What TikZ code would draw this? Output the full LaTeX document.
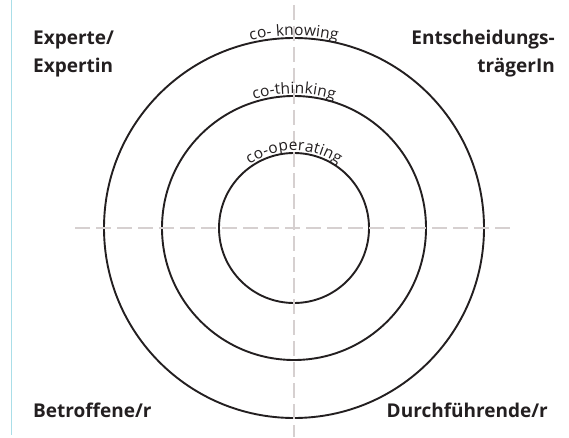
\documentclass[tikz,border=0pt]{standalone}
\usepackage{fontspec}
\setmainfont{Open Sans}
\usetikzlibrary{decorations.text}
\definecolor{axisgray}{RGB}{214,208,208}
\definecolor{rulecyan}{RGB}{170,222,232}
\definecolor{ink}{RGB}{35,31,32}
\begin{document}
\begin{tikzpicture}[x=1pt,y=1pt,
  ring/.style={circle, draw=ink, line width=1.9pt, inner sep=0pt, outer sep=0pt, minimum size=#1},
  axis/.style={draw=axisgray, line width=2.6pt, dash pattern=on 15pt off 6pt},
  role/.style={font=\fontsize{19}{28}\selectfont\bfseries, inner sep=0pt, text=ink},
  arclabel/.style={decorate, decoration={text along path, text align=center, raise=2.5pt,
     text={|\fontsize{15.5}{15.5}\selectfont\color{ink}|#1}}}
]
\useasboundingbox (0,0) rectangle (569,437);
\coordinate (c) at (294,209);
\node[ring=380pt] (outer) at (c) {};
\node[ring=264pt] (middle) at (c) {};
\node[ring=150pt] (inner) at (c) {};
\coordinate (hl) at (75,209);
\coordinate (hr) at (513,209);
\coordinate (vt) at (294,432);
\coordinate (vb) at (294,0);
\draw[axis] (hl) -- (hr);
\draw[axis] (vt) -- (vb);
\path[arclabel={co- knowing}] (outer.west) arc[start angle=180, end angle=0, radius=190];
\path[arclabel={co-thinking}] (middle.west) arc[start angle=180, end angle=0, radius=132];
\path[arclabel={co-operating}] (inner.west) arc[start angle=180, end angle=0, radius=75];
\coordinate (rt) at (11,437);
\coordinate (rb) at (11,2);
\draw[rulecyan, line width=1pt] (rt) -- (rb);
\node[role, align=left, anchor=base west] (expert) at (33,364) {Experte/\\Expertin};
\node[role, align=right, anchor=base east] (decider) at (555,364) {Entscheidungs-\\trägerIn};
\node[role, anchor=base west] (affected) at (33,20) {Betroffene/r};
\node[role, anchor=base east] (executor) at (548,20) {Durchführende/r};
\end{tikzpicture}
\end{document}
